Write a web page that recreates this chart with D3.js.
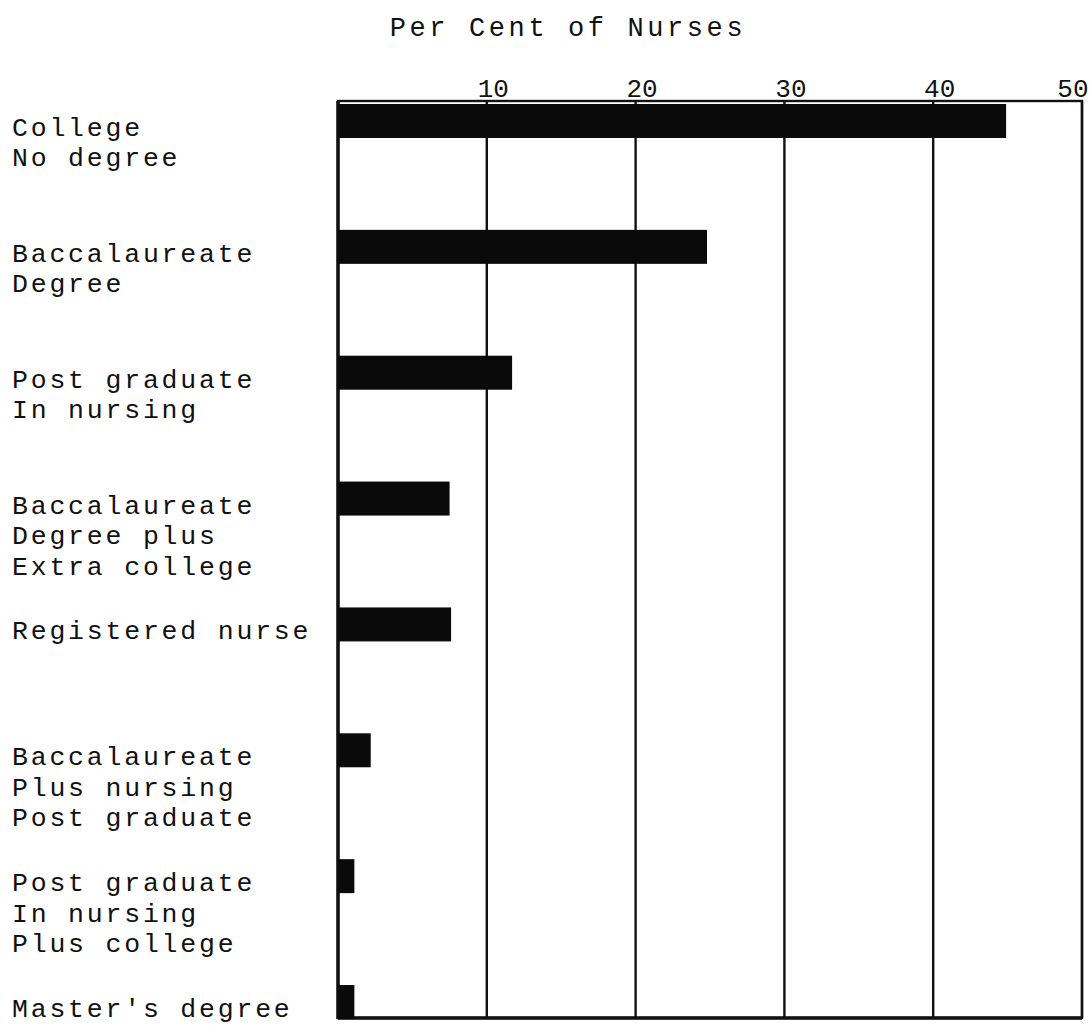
<!DOCTYPE html>
<html>
<head>
<meta charset="utf-8">
<script src="https://cdn.jsdelivr.net/npm/d3@7"></script>
<style>
  html, body { margin: 0; padding: 0; background: #fff; }
  svg { display: block; }
  text { font-family: "Liberation Mono", "DejaVu Sans Mono", monospace; fill: #111; }
</style>
</head>
<body>
<script>
const categories = [
  "College\nNo degree",
  "Baccalaureate\nDegree",
  "Post graduate\nIn nursing",
  "Baccalaureate\nDegree plus\nExtra college",
  "Registered nurse",
  "Baccalaureate\nPlus nursing\nPost graduate",
  "Post graduate\nIn nursing\nPlus college",
  "Master's degree"
];
const values = [44.9, 24.8, 11.7, 7.5, 7.6, 2.2, 1.1, 1.1];
const tickValues = [10, 20, 30, 40, 50];
const axisTitle = "Per Cent of Nurses";

(function () {
const W = 1091, H = 1025;
const leftX = 338, rightX = 1082, topY = 101, bottomY = 1018;

const svg = d3.select("body").append("svg").attr("width", W).attr("height", H);

const x = d3.scaleLinear().domain([0, 50]).range([leftX, rightX]);
const y = d3.scaleBand().domain(categories).range([104, 1019]).paddingInner(0.73).paddingOuter(0);

// Title
svg.append("text")
  .attr("x", x(0) + 230)
  .attr("y", 36)
  .attr("text-anchor", "middle")
  .style("font-size", "27px")
  .style("letter-spacing", "3.6px")
  .text(axisTitle);

// Gridlines
svg.append("g").selectAll("line").data(tickValues).join("line")
  .attr("x1", d => x(d)).attr("x2", d => x(d))
  .attr("y1", topY).attr("y2", bottomY)
  .attr("stroke", "#111").attr("stroke-width", 2.4);

// Frame
svg.append("rect")
  .attr("x", x(0)).attr("y", topY)
  .attr("width", x(50) - x(0)).attr("height", bottomY - topY)
  .attr("fill", "none").attr("stroke", "#111").attr("stroke-width", 2.4);
svg.append("line")
  .attr("x1", x(0)).attr("x2", x(0)).attr("y1", topY).attr("y2", bottomY + 1)
  .attr("stroke", "#111").attr("stroke-width", 3.5);
svg.append("line")
  .attr("x1", x(0)).attr("x2", x(50)).attr("y1", bottomY).attr("y2", bottomY)
  .attr("stroke", "#111").attr("stroke-width", 3.5);

// Tick labels via d3 axis
const axis = d3.axisTop(x).tickValues(tickValues).tickSize(0).tickPadding(0).tickFormat(d3.format("d"));
const ag = svg.append("g").attr("transform", "translate(0, 97)").call(axis);
ag.select(".domain").remove();
ag.selectAll("text")
  .attr("dy", 0)
  .attr("text-anchor", "middle")
  .style("font-size", "26px")
  .style("font-family", "'Liberation Mono', monospace")
  .attr("fill", "#111")
  .attr("dx", function (d) {
    const half = this.getComputedTextLength() / 2;
    const cx = Math.min(x(d) + 6, W - 3 - half);
    return cx - x(d);
  });

// Bars
svg.append("g").selectAll("rect").data(categories).join("rect")
  .attr("x", x(0))
  .attr("y", d => y(d))
  .attr("width", (d, i) => x(values[i]) - x(0))
  .attr("height", y.bandwidth())
  .attr("fill", "#0a0a0a");

// Category labels
const lg = svg.append("g");
categories.forEach(c => {
  const lines = c.split("\n");
  lines.forEach((ln, j) => {
    lg.append("text")
      .attr("x", 12)
      .attr("y", y(c) + y.bandwidth() - 2 + j * 30.5)
      .style("font-size", "26.5px")
      .style("letter-spacing", "2.8px")
      .text(ln);
  });
});
})();
</script>
</body>
</html>
